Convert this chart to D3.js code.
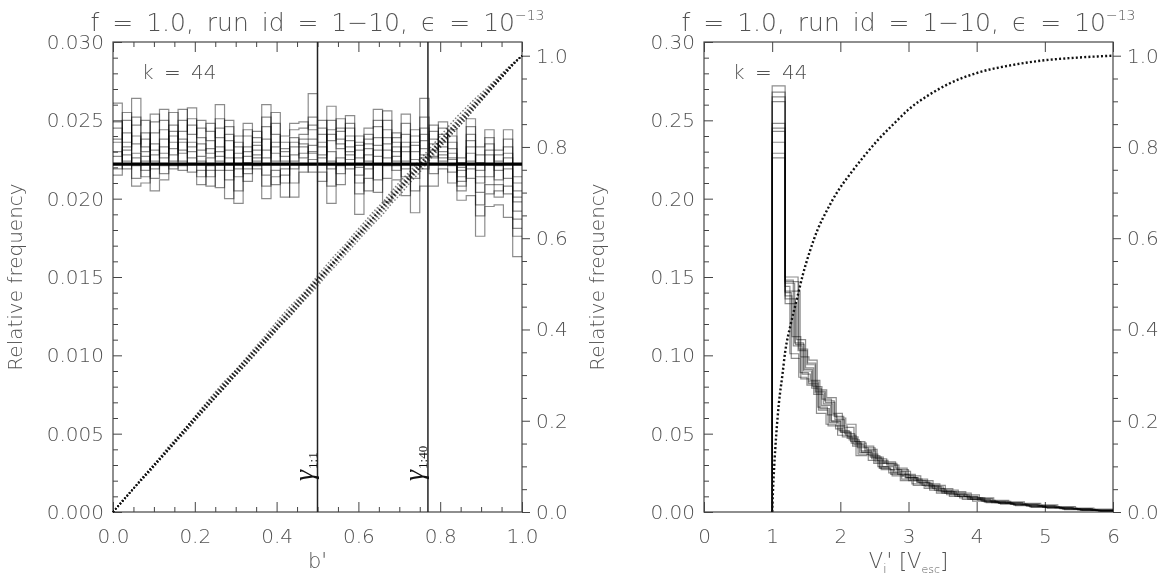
<!DOCTYPE html>
<html>
<head>
<meta charset="utf-8">
<title>Relative frequency of b' and V_i'</title>
<script src="https://d3js.org/d3.v7.min.js"></script>
<style>
  body { margin: 0; background: #fff; }
  svg { will-change: transform; }
  svg text { font-family: "DejaVu Sans", sans-serif; fill: #505050; font-weight: 200; opacity: 0.99; }
  .axis text { font-size: 20px; }
  .axis line { stroke: #444; stroke-width: 1; }
  .axis path { display: none; }
</style>
</head>
<body>
<svg id="chart" width="1168" height="576"></svg>
<script>
// ---------- data ----------
const numBins = 44;                 // k
const meanFreq = 0.0222;            // thick reference line, left panel
const gammaLines = [{sub: "1:1", b: 0.50}, {sub: "1:40", b: 0.77}];

// left panel: relative frequency of b' per bin (units of 1e-4), 10 runs per bin
const leftBinsE4 = [
  [261,238,222,245,215,230,249,227,236,219],
  [219,255,231,224,242,228,236,250,222,233],
  [264,208,247,226,235,213,240,221,229,252],
  [230,210,250,218,238,224,214,242,227,233],
  [242,254,205,228,219,235,249,213,224,231],
  [257,226,212,244,233,221,250,238,216,229],
  [228,240,255,219,232,247,224,236,221,243],
  [236,218,229,257,243,224,250,231,221,238],
  [222,247,236,226,258,217,241,230,251,233],
  [250,231,209,224,239,218,245,227,214,235],
  [214,248,226,208,237,221,243,232,218,229],
  [245,227,260,218,233,207,239,224,251,230],
  [226,237,212,250,200,241,222,231,218,246],
  [219,233,240,205,226,197,236,214,229,222],
  [233,211,248,223,240,227,216,244,230,219],
  [228,243,219,236,224,239,231,221,234,226],
  [238,222,200,260,246,215,231,252,208,226],
  [224,255,233,209,241,218,248,229,214,236],
  [232,201,240,219,227,210,236,224,215,230],
  [210,239,248,224,201,233,219,244,228,236],
  [241,226,249,233,217,238,222,245,229,235],
  [267,230,244,217,252,238,225,247,234,229],
  [222,250,233,211,241,228,217,245,236,226],
  [259,219,197,244,230,250,208,237,224,241],
  [232,245,221,251,209,238,226,243,216,235],
  [253,228,240,219,245,233,225,248,237,230],
  [215,236,190,240,226,203,231,220,210,234],
  [238,224,245,205,232,219,241,228,213,235],
  [246,212,257,231,204,239,222,250,227,234],
  [221,256,235,198,244,226,250,213,239,231],
  [233,221,242,212,236,227,218,239,230,224],
  [230,254,214,241,202,236,224,248,219,233],
  [236,225,244,191,230,213,240,221,234,205],
  [245,264,228,208,237,252,219,241,232,226],
  [222,238,247,208,231,216,243,227,235,226],
  [236,249,226,219,241,230,224,245,233,228],
  [221,236,244,210,229,217,240,225,232,226],
  [214,226,205,220,199,223,211,218,208,222],
  [233,251,219,241,202,229,246,224,237,213],
  [210,233,196,223,176,218,204,228,214,189],
  [228,244,203,235,195,222,214,239,231,209],
  [218,231,205,224,196,212,228,209,221,201],
  [226,244,208,233,188,219,238,203,213,229],
  [198,214,181,205,163,192,210,176,201,187]
];

// right panel: bin edges in V_i' [V_esc] and relative frequency per bin, 10 runs per bin
const rightEdges = [1.00,1.19,1.33,1.46,1.58,1.72,1.86,2.00,2.15,2.30,2.46,2.62,2.78,2.95,
                    3.12,3.30,3.48,3.67,3.86,4.06,4.27,4.49,4.72,4.96,5.21,5.47,5.74,6.00];
// the runs' bin edges sit slightly apart from each other (V_esc)
const rightRunShift = [0.00, 0.05, -0.04, 0.08, -0.02, 0.03, -0.07, 0.06, -0.05, 0.01];
const rightBins = [
  [0.262,0.236,0.272,0.245,0.229,0.268,0.248,0.226,0.265,0.243],
  [0.146,0.150,0.138,0.141,0.148,0.133,0.144,0.147,0.140,0.136],
  [0.108,0.103,0.112,0.099,0.106,0.110,0.101,0.104,0.098,0.107],
  [0.090,0.094,0.085,0.097,0.088,0.092,0.086,0.095,0.089,0.091],
  [0.079,0.076,0.083,0.078,0.084,0.075,0.081,0.077,0.082,0.080],
  [0.068,0.071,0.065,0.073,0.066,0.069,0.063,0.070,0.067,0.072],
  [0.058,0.061,0.055,0.060,0.057,0.063,0.056,0.059,0.062,0.058],
  [0.051,0.054,0.049,0.056,0.052,0.048,0.053,0.050,0.055,0.051],
  [0.045,0.043,0.048,0.044,0.046,0.042,0.049,0.045,0.047,0.044],
  [0.039,0.041,0.037,0.040,0.038,0.042,0.036,0.039,0.041,0.038],
  [0.034,0.032,0.036,0.033,0.035,0.031,0.037,0.034,0.033,0.035],
  [0.029,0.031,0.028,0.030,0.027,0.032,0.029,0.030,0.028,0.031],
  [0.025,0.027,0.024,0.026,0.023,0.028,0.025,0.024,0.027,0.026],
  [0.022,0.020,0.023,0.021,0.024,0.022,0.020,0.023,0.021,0.022],
  [0.019,0.018,0.020,0.017,0.021,0.019,0.018,0.020,0.017,0.019],
  [0.016,0.015,0.017,0.014,0.018,0.016,0.015,0.017,0.016,0.014],
  [0.013,0.012,0.014,0.011,0.015,0.013,0.012,0.014,0.013,0.012],
  [0.011,0.010,0.012,0.009,0.013,0.011,0.010,0.012,0.011,0.010],
  [0.009,0.008,0.010,0.007,0.011,0.009,0.008,0.009,0.010,0.008],
  [0.0075,0.0065,0.0085,0.0060,0.0090,0.0070,0.0080,0.0065,0.0075,0.0070],
  [0.0060,0.0055,0.0070,0.0050,0.0075,0.0060,0.0065,0.0055,0.0060,0.0068],
  [0.0052,0.0045,0.0060,0.0040,0.0065,0.0050,0.0056,0.0043,0.0058,0.0048],
  [0.0042,0.0035,0.0050,0.0030,0.0055,0.0040,0.0046,0.0033,0.0048,0.0038],
  [0.0034,0.0028,0.0040,0.0025,0.0045,0.0032,0.0037,0.0027,0.0039,0.0030],
  [0.0025,0.0019,0.0030,0.0015,0.0035,0.0022,0.0028,0.0018,0.0027,0.0021],
  [0.0017,0.0012,0.0021,0.0010,0.0025,0.0015,0.0019,0.0011,0.0020,0.0014],
  [0.0010,0.0006,0.0013,0.0005,0.0018,0.0009,0.0012,0.0007,0.0011,0.0008]
];

// right panel: cumulative fraction (right axis)
const rightCdfV = [1.00,1.01,1.03,1.06,1.10,1.15,1.19,1.27,1.36,1.45,1.55,1.67,1.80,1.95,
                   2.14,2.35,2.55,2.80,3.00,3.30,3.60,4.00,4.50,5.00,5.50,6.00];
const rightCdfF = [0.00,0.04,0.10,0.17,0.24,0.30,0.35,0.41,0.465,0.52,0.57,0.62,0.66,0.70,
                   0.74,0.78,0.815,0.853,0.882,0.914,0.939,0.962,0.979,0.990,0.996,1.00];

// tick values
const leftXTicks = [0, 0.2, 0.4, 0.6, 0.8, 1.0];
const leftYTicks = [0, 0.005, 0.010, 0.015, 0.020, 0.025, 0.030];
const rightXTicks = [0, 1, 2, 3, 4, 5, 6];
const rightYTicks = [0, 0.05, 0.10, 0.15, 0.20, 0.25, 0.30];
const cdfTicks = [0, 0.2, 0.4, 0.6, 0.8, 1.0];

// ---------- layout ----------
const plotTop = 42, plotHeight = 470, plotWidth = 409;
const svg = d3.select("#chart");

function makeMinor(lo, hi, step, majors) {
  // minor tick positions that do not sit on a major tick
  return d3.range(Math.round((hi - lo) / step) + 1).map(i => +(lo + i * step).toFixed(6))
    .filter(v => !majors.some(m => Math.abs(m - v) < 1e-9));
}

function drawPanel(opt) {
  const g = svg.append("g").attr("transform", "translate(" + opt.left + "," + plotTop + ")");
  const x = d3.scaleLinear().domain(opt.xDomain).range([0, plotWidth]);
  const y = d3.scaleLinear().domain(opt.yDomain).range([plotHeight, 0]);
  const yR = d3.scaleLinear().domain([0, 1.03]).range([plotHeight, 0]);

  // bottom axis (ticks inward) and top axis (ticks only)
  g.append("g").attr("class", "axis").attr("transform", "translate(0," + plotHeight + ")")
    .call(d3.axisBottom(x).tickValues(opt.xTicks).tickSize(-10).tickPadding(17).tickFormat(opt.xFormat));
  g.append("g").attr("class", "axis")
    .call(d3.axisTop(x).tickValues(opt.xTicks).tickSize(-10).tickFormat(""));
  if (opt.xMinor) {
    g.append("g").attr("class", "axis").attr("transform", "translate(0," + plotHeight + ")")
      .call(d3.axisBottom(x).tickValues(opt.xMinor).tickSize(-5).tickFormat(""));
    g.append("g").attr("class", "axis")
      .call(d3.axisTop(x).tickValues(opt.xMinor).tickSize(-5).tickFormat(""));
  }

  // left axis (ticks inward)
  g.append("g").attr("class", "axis")
    .call(d3.axisLeft(y).tickValues(opt.yTicks).tickSize(-9).tickPadding(9).tickFormat(opt.yFormat));
  g.append("g").attr("class", "axis")
    .call(d3.axisLeft(y).tickValues(opt.yMinor).tickSize(-5).tickFormat(""));

  // right axis: cumulative fraction (ticks outward)
  g.append("g").attr("class", "axis").attr("transform", "translate(" + plotWidth + ",0)")
    .call(d3.axisRight(yR).tickValues(cdfTicks).tickSize(8).tickPadding(6).tickFormat(d3.format(".1f")));
  g.append("g").attr("class", "axis").attr("transform", "translate(" + plotWidth + ",0)")
    .call(d3.axisRight(yR).tickValues(makeMinor(0, 1, 0.05, cdfTicks)).tickSize(5).tickFormat(""));

  // frame
  g.append("rect").attr("width", plotWidth).attr("height", plotHeight)
    .attr("fill", "none").attr("stroke", "#444").attr("stroke-width", 1.2);

  // title
  const title = g.append("text").attr("x", plotWidth / 2).attr("y", 31 - plotTop)
    .attr("text-anchor", "middle").style("font-size", "25px").style("word-spacing", "5px");
  title.append("tspan").text("f = 1.0, run id = 1\u221210, \u03f5 = 10");
  title.append("tspan").attr("dy", -11).style("font-size", "14px").text("\u221213");

  // k label
  g.append("text").attr("x", 29).attr("y", 79 - plotTop).style("font-size", "20px")
    .style("word-spacing", "4px").text("k = " + numBins);

  // y label
  g.append("text").attr("transform", "translate(" + opt.yLabelX + "," + plotHeight / 2 + ") rotate(-90)")
    .attr("text-anchor", "middle").style("font-size", "20px").text("Relative frequency");

  return {g: g, x: x, y: y, yR: yR};
}

const runStyle = sel => sel.attr("fill", "none").attr("stroke", "#000")
  .attr("stroke-opacity", 0.45).attr("stroke-width", 1.2);

// ---------- left panel ----------
const leftEdges = d3.range(numBins + 1).map(i => i / numBins);
const L = drawPanel({
  left: 113, xDomain: [0, 1], yDomain: [0, 0.030],
  xTicks: leftXTicks, xMinor: makeMinor(0, 1, 0.05, leftXTicks), xFormat: d3.format(".1f"),
  yTicks: leftYTicks, yMinor: makeMinor(0, 0.030, 0.001, leftYTicks), yFormat: d3.format(".3f"),
  yLabelX: 22 - 113
});

const leftStep = d3.line().curve(d3.curveStepAfter).x(d => L.x(d[0])).y(d => L.y(d[1]));
const leftLine = d3.line().x(d => L.x(d[0])).y(d => L.yR(d[1]));
d3.range(10).forEach(r => {
  const run = leftBinsE4.map(b => b[r] / 1e4);
  const pts = run.map((v, i) => [leftEdges[i], v]).concat([[1, run[numBins - 1]]]);
  L.g.append("path").datum(pts).attr("d", leftStep).call(runStyle);
});
// cumulative fraction of each run
d3.range(10).forEach(r => {
  const run = leftBinsE4.map(b => b[r]);
  const total = d3.sum(run);
  const cum = Array.from(d3.cumsum(run));
  const pts = [[0, 0]].concat(cum.map((c, i) => [leftEdges[i + 1], c / total]));
  L.g.append("path").datum(pts).attr("d", leftLine)
    .attr("fill", "none").attr("stroke", "#111").attr("stroke-opacity", 0.55)
    .attr("stroke-width", 1.5).attr("stroke-dasharray", "1.5,2");
});
L.g.append("line").attr("x1", 0).attr("x2", plotWidth)
  .attr("y1", L.y(meanFreq)).attr("y2", L.y(meanFreq))
  .attr("stroke", "#000").attr("stroke-width", 3.2);

// gamma markers
gammaLines.forEach(d => {
  L.g.append("line").attr("x1", L.x(d.b)).attr("x2", L.x(d.b)).attr("y1", 0).attr("y2", plotHeight)
    .attr("stroke", "#222").attr("stroke-width", 1.5);
  const t = L.g.append("text")
    .attr("transform", "translate(" + (L.x(d.b) - 5) + "," + (481 - plotTop) + ") rotate(-90)")
    .style("font-family", "'Liberation Serif', 'DejaVu Serif', serif").style("fill", "#111")
    .style("font-weight", "400").style("font-style", "italic");
  t.append("tspan").style("font-size", "28px").text("\u03b3");
  t.append("tspan").attr("dy", 4).attr("dx", 1).style("font-size", "13px").style("font-style", "normal").text(d.sub);
});

L.g.append("text").attr("x", plotWidth / 2).attr("y", 568 - plotTop).attr("text-anchor", "middle")
  .style("font-size", "21px").text("b'");

// ---------- right panel ----------
const R = drawPanel({
  left: 704, xDomain: [0, 6], yDomain: [0, 0.30],
  xTicks: rightXTicks, xMinor: null, xFormat: d3.format("d"),
  yTicks: rightYTicks, yMinor: makeMinor(0, 0.30, 0.01, rightYTicks), yFormat: d3.format(".2f"),
  yLabelX: 604 - 704
});

const rightStep = d3.line().curve(d3.curveStepAfter).x(d => R.x(d[0])).y(d => R.y(d[1]));
const nEdge = rightEdges.length;
d3.range(10).forEach(r => {
  const run = rightBins.map(b => b[r]);
  // first two edges are common to all runs, the last one is the axis end
  const edges = rightEdges.map((e, i) => (i < 2 || i === nEdge - 1) ? e : e + rightRunShift[r]);
  const pts = [[edges[0], 0]].concat(run.map((v, i) => [edges[i], v]))
    .concat([[edges[nEdge - 1], run[run.length - 1]]]);
  R.g.append("path").datum(pts).attr("d", rightStep).call(runStyle);
});
R.g.append("path").datum(rightCdfV.map((v, i) => [v, rightCdfF[i]]))
  .attr("d", d3.line().curve(d3.curveMonotoneX).x(d => R.x(d[0])).y(d => R.yR(d[1])))
  .attr("fill", "none").attr("stroke", "#111").attr("stroke-width", 2.4)
  .attr("stroke-dasharray", "2,2.2");

const xl = R.g.append("text").attr("x", plotWidth / 2).attr("y", 568 - plotTop)
  .attr("text-anchor", "middle").style("font-size", "21px");
xl.append("tspan").text("V");
xl.append("tspan").attr("dy", 5).style("font-size", "12px").text("i");
xl.append("tspan").attr("dy", -5).text("'  [V");
xl.append("tspan").attr("dy", 5).style("font-size", "11px").text("esc");
xl.append("tspan").attr("dy", -5).text("]");
</script>
</body>
</html>
